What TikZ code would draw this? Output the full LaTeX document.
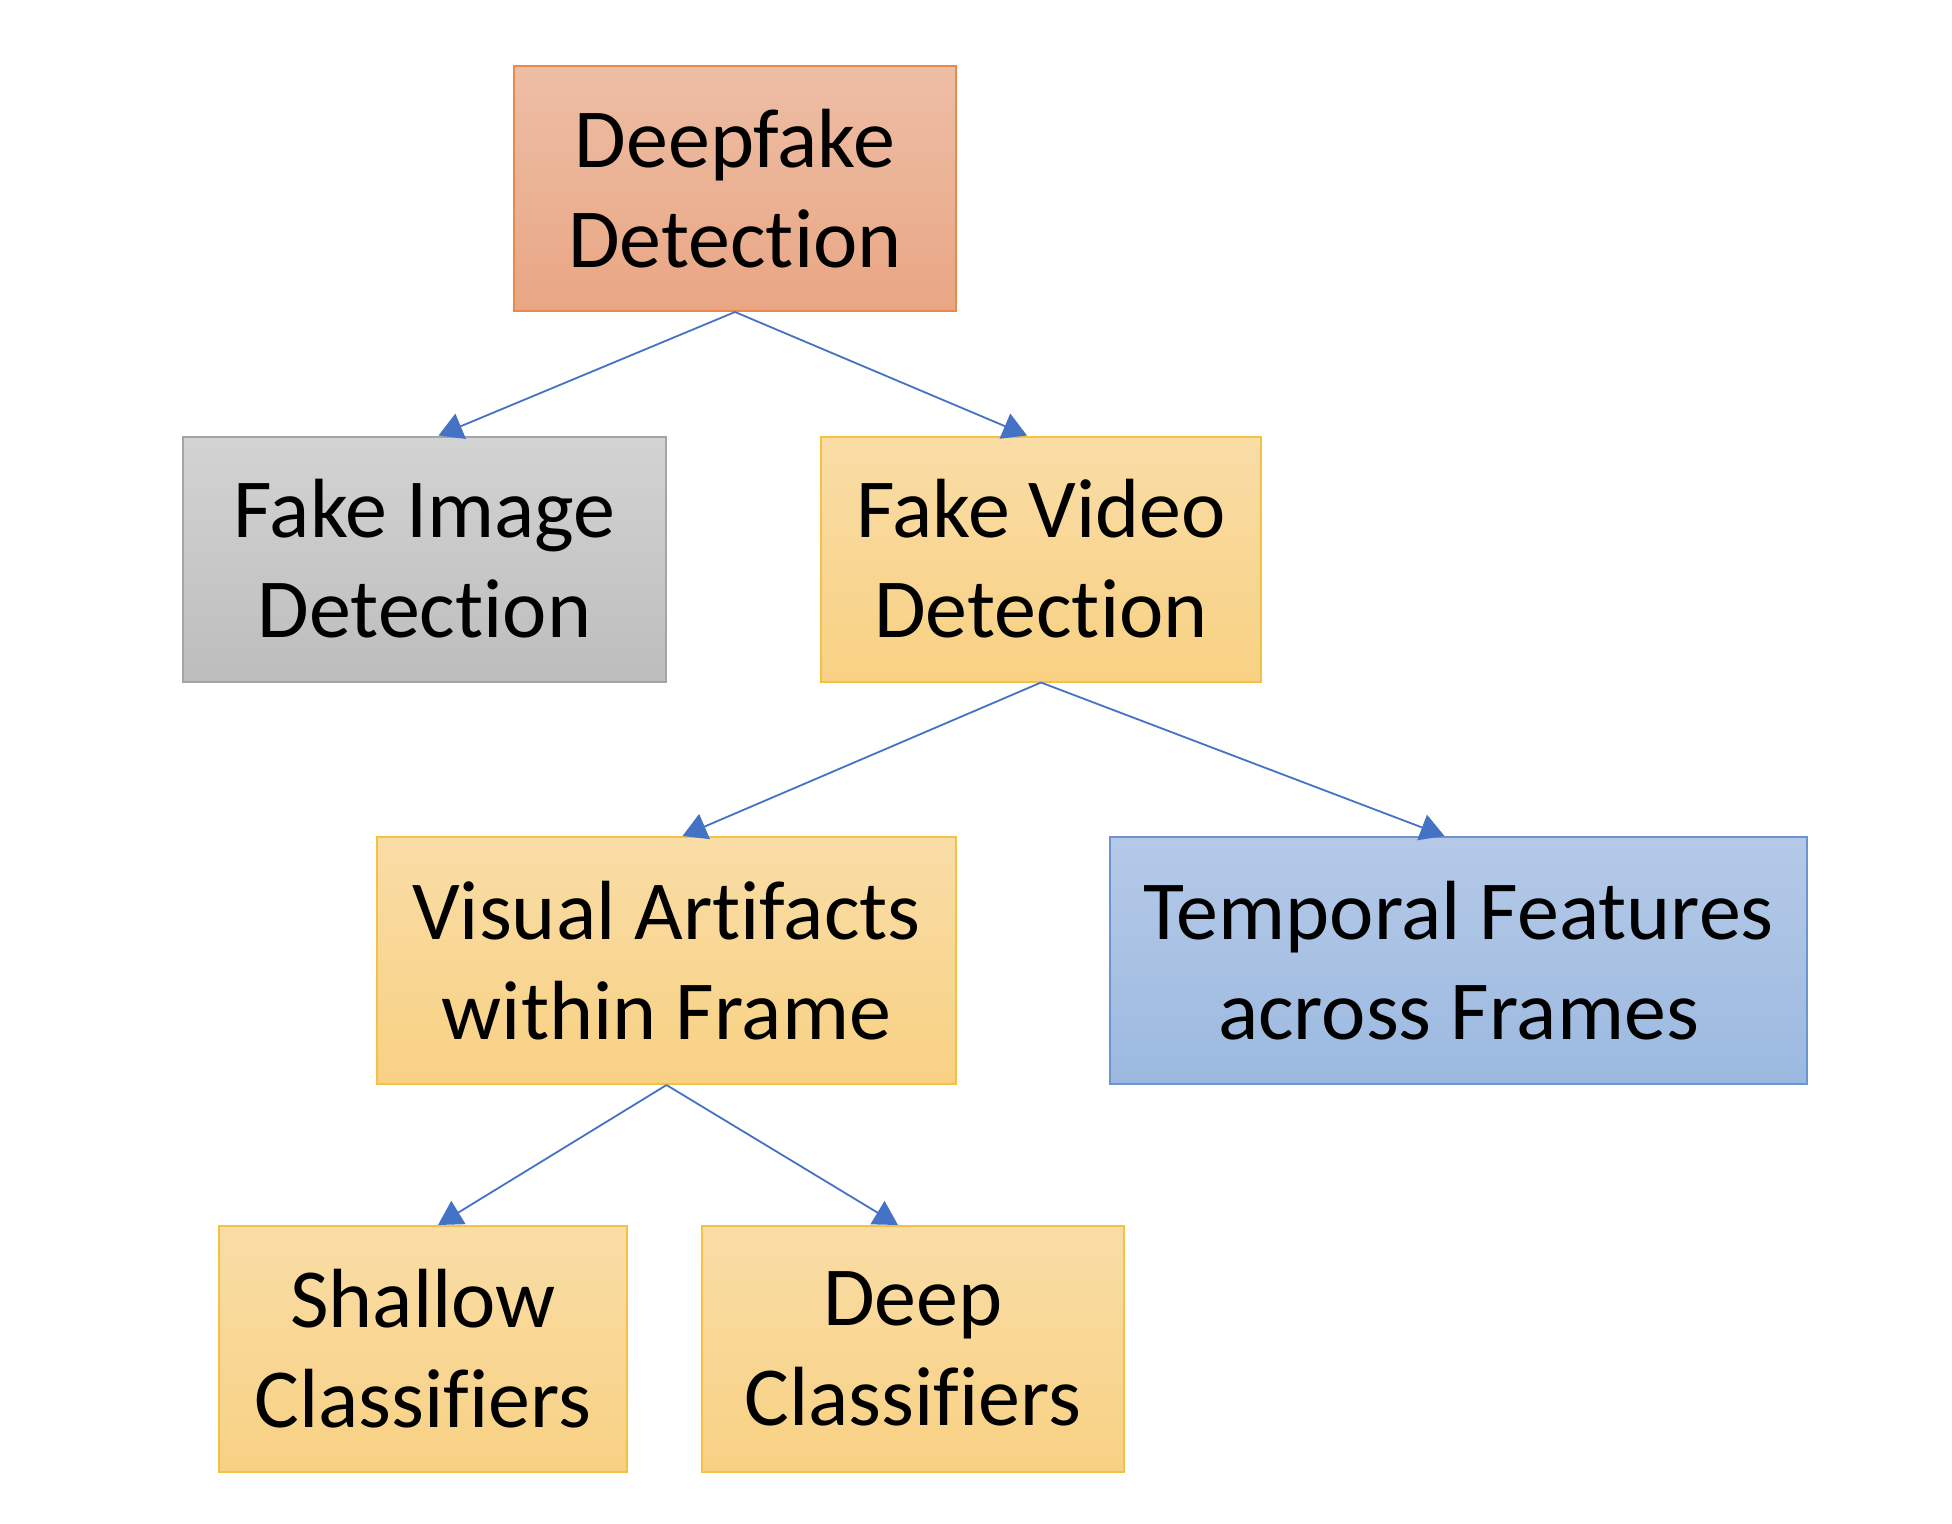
\documentclass[tikz,border=0pt]{standalone}
\usepackage{fontspec}
\setmainfont[Ligatures=NoCommon]{Carlito}
\usetikzlibrary{arrows.meta,positioning}
\definecolor{rootline}{HTML}{E9884F}
\definecolor{roottop}{HTML}{EDBEA5}
\definecolor{rootbot}{HTML}{E9A684}
\definecolor{greyline}{HTML}{A5A5A5}
\definecolor{greytop}{HTML}{D3D3D3}
\definecolor{greybot}{HTML}{BDBDBD}
\definecolor{goldline}{HTML}{F4C145}
\definecolor{goldtop}{HTML}{F9DDA6}
\definecolor{goldbot}{HTML}{F8D183}
\definecolor{blueline}{HTML}{6C95D0}
\definecolor{bluetop}{HTML}{B5C9E7}
\definecolor{bluebot}{HTML}{9BB9E0}
\definecolor{arrowblue}{HTML}{4472C4}
\tikzset{
  box/.style={rectangle,line width=1pt,align=center,inner sep=2pt,minimum height=122.5pt,font=\fontsize{42}{50}\selectfont},
  rootbox/.style={box,draw=rootline,top color=roottop,bottom color=rootbot},
  greybox/.style={box,draw=greyline,top color=greytop,bottom color=greybot},
  goldbox/.style={box,draw=goldline,top color=goldtop,bottom color=goldbot},
  bluebox/.style={box,draw=blueline,top color=bluetop,bottom color=bluebot},
  arrow/.style={-{Triangle[length=12pt,width=13.5pt]},line width=0.9pt,arrowblue}
}
\begin{document}
\begin{tikzpicture}
    \useasboundingbox (0,0) rectangle (976pt,-762pt);
    \node[rootbox,minimum width=221pt] (deep) at (367.5pt,-94.25pt) {Deepfake\\Detection};
    \node[greybox,minimum width=241.5pt] (img) at (212.25pt,-279.5pt) {Fake Image\\Detection};
    \node[goldbox,right=76.5pt of img,minimum width=220pt] (vid) {Fake Video\\Detection};
    \node[goldbox,minimum width=289.5pt,minimum height=123.5pt] (vis) at (333.25pt,-480.25pt) {Visual Artifacts\\within Frame};
    \node[bluebox,right=76pt of vis,minimum width=348.5pt,minimum height=123.5pt] (tmp) {Temporal Features\\across Frames};
    \node[goldbox,minimum width=204pt,minimum height=123pt] (shal) at (211.5pt,-674.5pt) {Shallow\\Classifiers};
    \node[goldbox,right=36.5pt of shal,minimum width=211pt,minimum height=123pt] (dclf) {Deep\\Classifiers};
    \draw[arrow] (deep.south) -- ([xshift=7pt]img.north);
    \draw[arrow] (deep.south) -- ([xshift=-7pt]vid.north);
    \draw[arrow] (vid.south) -- ([xshift=8pt]vis.north);
    \draw[arrow] (vid.south) -- ([xshift=-7pt]tmp.north);
    \draw[arrow] (vis.south) -- ([xshift=7.5pt]shal.north);
    \draw[arrow] (vis.south) -- ([xshift=-7.5pt]dclf.north);
\end{tikzpicture}
\end{document}
